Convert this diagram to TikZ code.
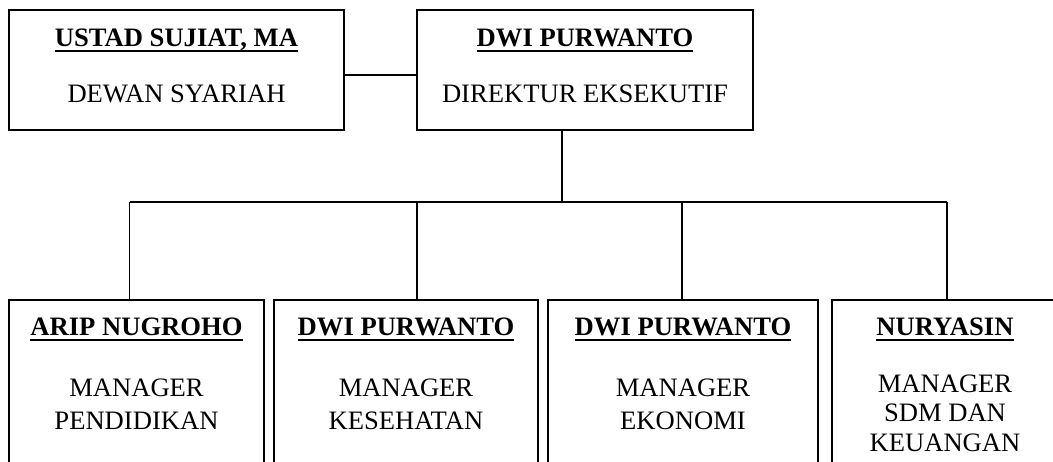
\documentclass[tikz,border=0pt]{standalone}
\usepackage{fontspec}
\setmainfont{Liberation Serif}
\newcommand\myul[1]{\setbox0\hbox{#1}\rlap{\rule[-5pt]{\wd0}{2.2pt}}\box0}
\begin{document}
\begin{tikzpicture}[x=1pt,y=-1pt,line width=1.8pt,
  box/.style={draw,rectangle,inner sep=0pt},
  pname/.style={anchor=base,inner sep=0pt,font=\fontsize{26.6}{30}\selectfont\bfseries},
  prole/.style={anchor=base,inner sep=0pt,font=\fontsize{26.6}{30}\selectfont}]
\useasboundingbox (0,0) rectangle (1053,462);
\clip (0,0) rectangle (1053,462);
% top boxes
\node[box,minimum width=335pt,minimum height=120pt] (dewan) at (176.5,70) {};
\node[box,minimum width=336pt,minimum height=120pt] (dir) at (585,70) {};
\node[pname] (t1) at (176.5,47) {\myul{USTAD SUJIAT, MA}};
\node[prole] (r1) at (176.5,103) {DEWAN SYARIAH};
\node[pname] (t2) at (585,47) {\myul{DWI PURWANTO}};
\node[prole] (r2) at (585,103) {DIREKTUR EKSEKUTIF};
\draw ([yshift=-5pt]dewan.east) -- ([yshift=-5pt]dir.west);
% bottom boxes
\node[box,minimum width=255pt,minimum height=220pt] (b1) at (136.5,410) {};
\node[box,minimum width=264pt,minimum height=220pt] (b2) at (406,410) {};
\node[box,minimum width=270pt,minimum height=220pt] (b3) at (683,410) {};
\node[box,minimum width=228pt,minimum height=220pt] (b4) at (946,410) {};
% connectors
\coordinate (hub) at (562,202);
\coordinate (d1) at (129.5,202);
\coordinate (d2) at (417,202);
\coordinate (d3) at (682,202);
\coordinate (d4) at (947,202);
\draw (dir.south -| hub) -- (hub);
\draw (d1) -- (d4);
\draw (d1) -- (d1 |- b1.north);
\draw (d2) -- (d2 |- b2.north);
\draw (d3) -- (d3 |- b3.north);
\draw (d4) -- (d4 |- b4.north);
% texts
\node[pname] (n1) at (136.5,336) {\myul{ARIP NUGROHO}};
\node[prole] (m1) at (136.5,397) {MANAGER};
\node[prole] (s1) at (136.5,430) {PENDIDIKAN};
\node[pname] (n2) at (406,336) {\myul{DWI PURWANTO}};
\node[prole] (m2) at (406,397) {MANAGER};
\node[prole] (s2) at (406,430) {KESEHATAN};
\node[pname] (n3) at (683,336) {\myul{DWI PURWANTO}};
\node[prole] (m3) at (683,397) {MANAGER};
\node[prole] (s3) at (683,430) {EKONOMI};
\node[pname] (n4) at (945,336) {\myul{NURYASIN}};
\node[prole] (m4) at (945,392) {MANAGER};
\node[prole] (s4) at (945,422) {SDM DAN};
\node[prole] (k4) at (945,451) {KEUANGAN};
\end{tikzpicture}
\end{document}
